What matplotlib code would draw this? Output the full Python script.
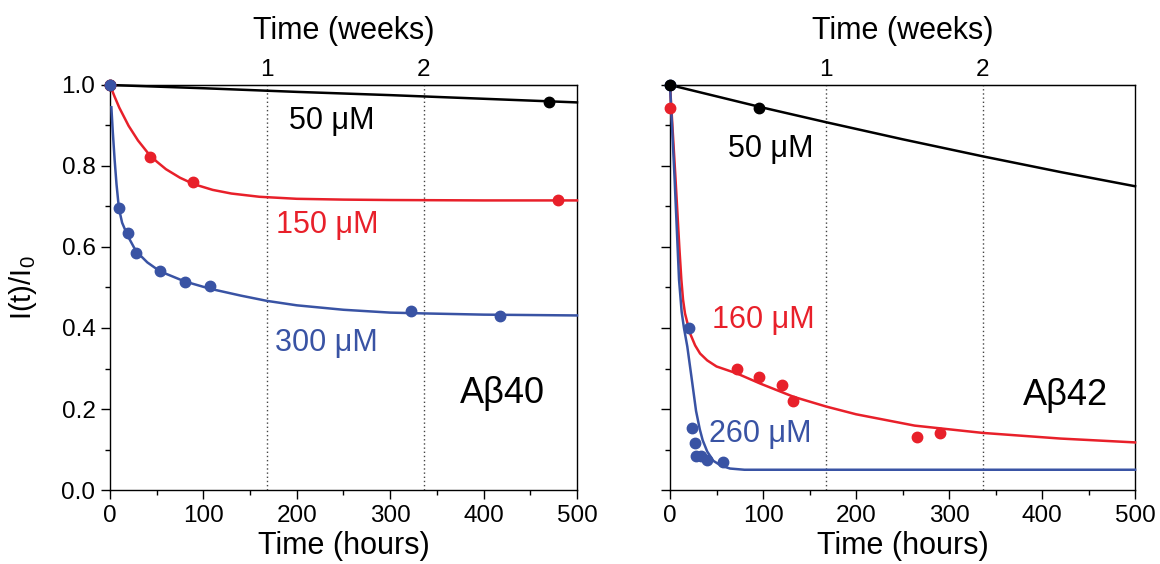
import matplotlib.pyplot as plt
from matplotlib.ticker import MultipleLocator, FormatStrFormatter

plt.rcParams['font.family'] = ['Liberation Sans', 'DejaVu Sans']
plt.rcParams['mathtext.fontset'] = 'custom'
plt.rcParams['mathtext.rm'] = 'Liberation Sans'
plt.rcParams['mathtext.it'] = 'Liberation Sans:italic'

RED = "#E8202A"
BLUE = "#3953A4"
BLACK = "#000000"

# ---- A-beta 40: measured points (hours, I(t)/I0) ----
ab40_50_t = [0, 470]
ab40_50_v = [1.0, 0.959]
ab40_150_t = [0, 43, 89, 480]
ab40_150_v = [1.0, 0.823, 0.761, 0.715]
ab40_300_t = [0, 9.6, 18.9, 27.8, 53.5, 80.3, 107, 322, 418]
ab40_300_v = [1.0, 0.697, 0.634, 0.586, 0.541, 0.514, 0.504, 0.442, 0.430]

# ---- A-beta 40: fitted curves ----
ab40_50_fit_t = [0, 100, 200, 300, 400, 500]
ab40_50_fit_v = [1.0, 0.992, 0.983, 0.975, 0.966, 0.957]
ab40_150_fit_t = [0, 5, 10, 20, 30, 40, 50, 60, 75, 90, 110, 130, 160, 200, 250, 300, 400, 500]
ab40_150_fit_v = [1.0, 0.971, 0.944, 0.899, 0.863, 0.834, 0.811, 0.792, 0.771, 0.755,
                  0.741, 0.732, 0.724, 0.719, 0.717, 0.716, 0.715, 0.715]
ab40_300_fit_t = [1.5, 3, 5, 7, 9.6, 13, 18.9, 27.8, 40, 53.5, 80, 107, 140, 168, 200,
                  250, 300, 336, 400, 450, 500]
ab40_300_fit_v = [0.945, 0.885, 0.815, 0.755, 0.695, 0.66, 0.628, 0.59, 0.562, 0.54, 0.515,
                  0.497, 0.48, 0.467, 0.456, 0.445, 0.438, 0.436, 0.433, 0.432, 0.431]

# ---- A-beta 42: measured points ----
ab42_50_t = [0, 96]
ab42_50_v = [1.0, 0.943]
ab42_160_t = [0, 71.7, 95.3, 120, 132.6, 265.8, 289.8]
ab42_160_v = [0.943, 0.299, 0.280, 0.259, 0.220, 0.130, 0.140]
ab42_260_t = [0, 20.3, 24, 27.1, 28.3, 33, 39.5, 57.1]
ab42_260_v = [1.0, 0.40, 0.153, 0.116, 0.084, 0.084, 0.075, 0.069]

# ---- A-beta 42: fitted curves ----
ab42_50_fit_t = [0, 50, 100, 168, 250, 336, 420, 500]
ab42_50_fit_v = [1.0, 0.972, 0.944, 0.908, 0.866, 0.824, 0.785, 0.75]
ab42_160_fit_t = [0, 6, 10, 12.2, 14, 16.1, 21.5, 27, 32.3, 40, 50, 71.7, 96.8, 133, 168,
                  200, 263, 336, 420, 500]
ab42_160_fit_v = [1.0, 0.765, 0.60, 0.519, 0.47, 0.436, 0.387, 0.357, 0.337, 0.32, 0.305,
                  0.288, 0.263, 0.23, 0.206, 0.187, 0.159, 0.141, 0.127, 0.1175]
ab42_260_fit_t = [0, 5, 9.7, 12.5, 15, 18.6, 23.3, 28, 32, 35.1, 40, 46.6, 55, 64.5, 80, 100, 500]
ab42_260_fit_v = [1.0, 0.765, 0.519, 0.44, 0.40, 0.354, 0.275, 0.195, 0.15, 0.123, 0.095, 0.072,
                  0.06, 0.053, 0.05, 0.05, 0.05]

week_hours = [168, 336]
week_labels = ["1", "2"]


def style_axes(ax, show_ylabels):
    ax.set_xlim(0, 500)
    ax.set_ylim(0, 1.0)
    ax.xaxis.set_major_locator(MultipleLocator(100))
    ax.xaxis.set_minor_locator(MultipleLocator(50))
    ax.yaxis.set_major_locator(MultipleLocator(0.2))
    ax.yaxis.set_minor_locator(MultipleLocator(0.1))
    ax.yaxis.set_major_formatter(FormatStrFormatter("%.1f"))
    ax.tick_params(which="major", direction="out", length=6.5, width=1, labelsize=17.5, pad=4)
    ax.tick_params(which="minor", direction="out", length=3.5, width=1)
    ax.tick_params(top=False, right=False)
    if not show_ylabels:
        ax.tick_params(axis="y", labelleft=False)
    for s in ax.spines.values():
        s.set_linewidth(1.0)
    ax.set_xlabel("Time (hours)", fontsize=22, labelpad=3.5)
    for h in week_hours:
        ax.axvline(h, color="#444444", lw=1, ls=(0, (1, 2)), zorder=1)
    sec = ax.secondary_xaxis("top", functions=(lambda h: h / 168.0, lambda w: w * 168.0))
    sec.set_xticks([1, 2])
    sec.set_xticklabels(week_labels)
    sec.tick_params(length=0, labelsize=17.5, pad=3)
    sec.set_xlabel("Time (weeks)", fontsize=22, labelpad=14)


fig = plt.figure(figsize=(11.6, 5.64), dpi=100)
ax1 = fig.add_axes([0.0948, 0.1312, 0.4026, 0.7181])
ax2 = fig.add_axes([0.5776, 0.1312, 0.4009, 0.7181])

ms = 7.5
lw = 1.8

# left panel: A-beta 40
ax1.plot(ab40_50_fit_t, ab40_50_fit_v, color=BLACK, lw=lw, zorder=3, clip_on=False)
ax1.plot(ab40_50_t, ab40_50_v, "o", color=BLACK, ms=ms, zorder=4, clip_on=False)
ax1.plot(ab40_150_fit_t, ab40_150_fit_v, color=RED, lw=lw, zorder=3, clip_on=False)
ax1.plot(ab40_150_t, ab40_150_v, "o", color=RED, ms=ms, zorder=4, clip_on=False)
ax1.plot(ab40_300_fit_t, ab40_300_fit_v, color=BLUE, lw=lw, zorder=3, clip_on=False)
ax1.plot(ab40_300_t, ab40_300_v, "o", color=BLUE, ms=ms, zorder=4, clip_on=False)

ax1.text(192, 0.8906, "50 μM", color=BLACK, fontsize=22, ha="left", va="baseline")
ax1.text(178, 0.635, "150 μM", color=RED, fontsize=22, ha="left", va="baseline")
ax1.text(177, 0.343, "300 μM", color=BLUE, fontsize=22, ha="left", va="baseline")
ax1.text(375, 0.2156, "Aβ40", color=BLACK, fontsize=26, ha="left", va="baseline")
ax1.set_ylabel("I(t)/I$_0$", fontsize=21, labelpad=16)
style_axes(ax1, True)

# right panel: A-beta 42
ax2.plot(ab42_160_fit_t, ab42_160_fit_v, color=RED, lw=lw, zorder=3, clip_on=False)
ax2.plot(ab42_260_fit_t, ab42_260_fit_v, color=BLUE, lw=lw, zorder=3, clip_on=False)
ax2.plot(ab42_260_t, ab42_260_v, "o", color=BLUE, ms=ms, zorder=4, clip_on=False)
ax2.plot(ab42_160_t, ab42_160_v, "o", color=RED, ms=ms, zorder=4, clip_on=False)
ax2.plot(ab42_50_fit_t, ab42_50_fit_v, color=BLACK, lw=lw, zorder=3, clip_on=False)
ax2.plot(ab42_50_t, ab42_50_v, "o", color=BLACK, ms=ms, zorder=5, clip_on=False)

ax2.text(62, 0.821, "50 μM", color=BLACK, fontsize=22, ha="left", va="baseline")
ax2.text(45, 0.40, "160 μM", color=RED, fontsize=22, ha="left", va="baseline")
ax2.text(42, 0.119, "260 μM", color=BLUE, fontsize=22, ha="left", va="baseline")
ax2.text(379, 0.21, "Aβ42", color=BLACK, fontsize=26, ha="left", va="baseline")
style_axes(ax2, False)

fig.savefig("out.png", dpi=100)
